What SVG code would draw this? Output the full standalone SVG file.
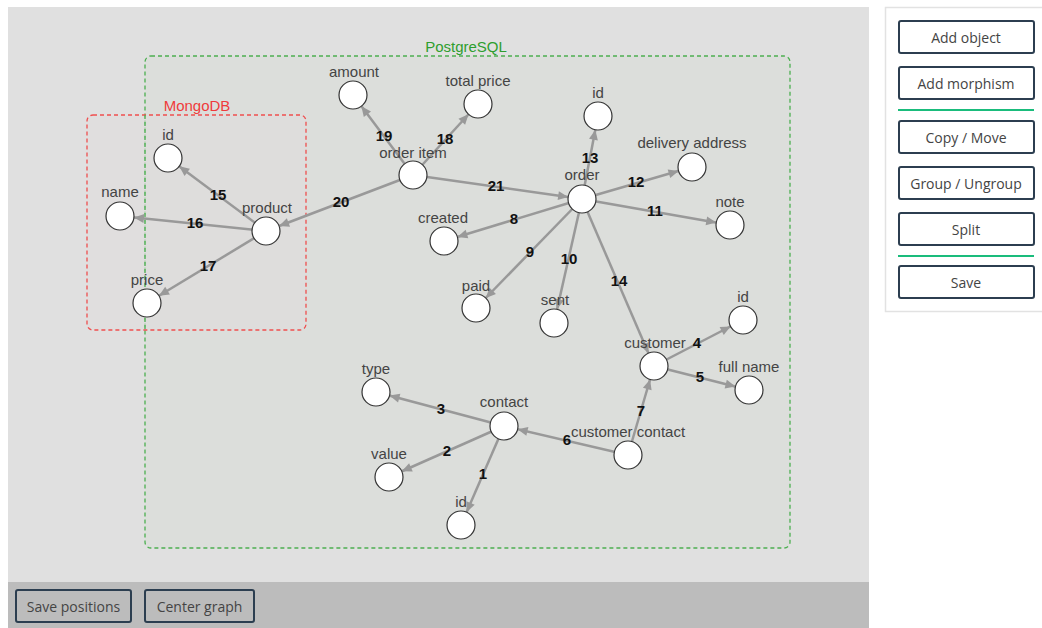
<svg xmlns="http://www.w3.org/2000/svg" width="1042" height="628" viewBox="0 0 1042 628">
  <style>
    .node circle { fill: #ffffff; stroke: #333333; stroke-width: 1.2; }
    .node text { font-family: "Liberation Sans", Arial, sans-serif; font-size: 15px; fill: #444444; text-anchor: middle; }
    .edge line { stroke: #999999; stroke-width: 2.5; marker-end: url(#arrow); }
    .edge text { font-family: "Liberation Sans", Arial, sans-serif; font-size: 15px; font-weight: bold; fill: #111111; text-anchor: middle; dominant-baseline: central; }
    .group rect { stroke-width: 1.3; stroke-dasharray: 4 3; }
    .group text { font-family: "Liberation Sans", Arial, sans-serif; font-size: 15px; text-anchor: middle; }
    .btn rect { fill: #ffffff; stroke: #2c3e50; stroke-width: 2; }
    .btn text { font-family: "Open Sans", "Noto Sans", sans-serif; font-size: 14px; fill: #444444; text-anchor: middle; dominant-baseline: central; }
    .sep { stroke: #1abc7c; stroke-width: 2; }
  </style>
  <defs>
    <marker id="arrow" markerUnits="userSpaceOnUse" markerWidth="40" markerHeight="20" viewBox="-30 -10 40 20" refX="0" refY="0" orient="auto" overflow="visible">
      <path d="M -14 0 L -24 -4.5 L -24 4.5 Z" fill="#999999"/>
    </marker>
  </defs>

  <!-- canvas -->
  <rect x="0" y="0" width="1042" height="628" fill="#ffffff"/>
  <rect x="8" y="7" width="861" height="575" fill="#e0e0e0"/>
  <rect x="8" y="582" width="861" height="46" fill="#bcbcbc"/>

  <!-- database groups -->
  <g id="group-postgresql" class="group">
    <rect x="145" y="56" width="645" height="492" rx="6" fill="#dcdedb" stroke="#4caf50"/>
    <text x="466" y="52" fill="#2e9e2e">PostgreSQL</text>
  </g>
  <g id="group-mongodb" class="group">
    <rect x="87" y="115" width="219" height="215" rx="6" fill="#dfdcdc" fill-opacity="0.6" stroke="#ef4f4f"/>
    <text x="197" y="111" fill="#ef3b3b">MongoDB</text>
  </g>
  <line x1="145" y1="115" x2="145" y2="330" stroke="#4caf50" stroke-width="1.3" stroke-dasharray="4 3"/>

  <!-- morphisms -->
  <g id="edges" class="edge">
    <line x1="266" y1="231" x2="168" y2="158"/>
    <line x1="266" y1="231" x2="120" y2="216"/>
    <line x1="266" y1="231" x2="147" y2="303"/>
    <line x1="413" y1="175" x2="266" y2="231"/>
    <line x1="413" y1="175" x2="353" y2="95"/>
    <line x1="413" y1="175" x2="478" y2="104"/>
    <line x1="413" y1="175" x2="582" y2="199"/>
    <line x1="582" y1="199" x2="598" y2="116"/>
    <line x1="582" y1="199" x2="692" y2="167"/>
    <line x1="582" y1="199" x2="730" y2="225"/>
    <line x1="582" y1="199" x2="444" y2="241"/>
    <line x1="582" y1="199" x2="476" y2="308"/>
    <line x1="582" y1="199" x2="554" y2="323"/>
    <line x1="582" y1="199" x2="654" y2="366"/>
    <line x1="654" y1="366" x2="743" y2="320"/>
    <line x1="654" y1="366" x2="749" y2="390"/>
    <line x1="628" y1="455" x2="654" y2="366"/>
    <line x1="628" y1="455" x2="504" y2="426"/>
    <line x1="504" y1="426" x2="376" y2="392"/>
    <line x1="504" y1="426" x2="389" y2="477"/>
    <line x1="504" y1="426" x2="461" y2="525"/>
  </g>

  <!-- objects -->
  <g id="node-product-id" class="node"><circle cx="168" cy="158" r="14"/><text x="168" y="140">id</text></g>
  <g id="node-product-name" class="node"><circle cx="120" cy="216" r="14"/><text x="120" y="197">name</text></g>
  <g id="node-product" class="node"><circle cx="266" cy="231" r="14"/><text x="267" y="213">product</text></g>
  <g id="node-product-price" class="node"><circle cx="147" cy="303" r="14"/><text x="147" y="285">price</text></g>
  <g id="node-amount" class="node"><circle cx="353" cy="95" r="14"/><text x="354" y="77">amount</text></g>
  <g id="node-total-price" class="node"><circle cx="478" cy="104" r="14"/><text x="478" y="86">total price</text></g>
  <g id="node-order-item" class="node"><circle cx="413" cy="175" r="14"/><text x="413" y="158">order item</text></g>
  <g id="node-order" class="node"><circle cx="582" cy="199" r="14"/><text x="582" y="180">order</text></g>
  <g id="node-order-id" class="node"><circle cx="598" cy="116" r="14"/><text x="598" y="98">id</text></g>
  <g id="node-delivery-address" class="node"><circle cx="692" cy="167" r="14"/><text x="692" y="148">delivery address</text></g>
  <g id="node-note" class="node"><circle cx="730" cy="225" r="14"/><text x="730" y="207">note</text></g>
  <g id="node-created" class="node"><circle cx="444" cy="241" r="14"/><text x="443" y="223">created</text></g>
  <g id="node-paid" class="node"><circle cx="476" cy="308" r="14"/><text x="476" y="291">paid</text></g>
  <g id="node-sent" class="node"><circle cx="554" cy="323" r="14"/><text x="555" y="305">sent</text></g>
  <g id="node-customer" class="node"><circle cx="654" cy="366" r="14"/><text x="655" y="348">customer</text></g>
  <g id="node-customer-id" class="node"><circle cx="743" cy="320" r="14"/><text x="743" y="302">id</text></g>
  <g id="node-full-name" class="node"><circle cx="749" cy="390" r="14"/><text x="749" y="372">full name</text></g>
  <g id="node-customer-contact" class="node"><circle cx="628" cy="455" r="14"/><text x="628" y="437">customer contact</text></g>
  <g id="node-contact" class="node"><circle cx="504" cy="426" r="14"/><text x="504" y="407">contact</text></g>
  <g id="node-type" class="node"><circle cx="376" cy="392" r="14"/><text x="376" y="374">type</text></g>
  <g id="node-value" class="node"><circle cx="389" cy="477" r="14"/><text x="389" y="459">value</text></g>
  <g id="node-contact-id" class="node"><circle cx="461" cy="525" r="14"/><text x="461" y="507">id</text></g>

  <!-- morphism numbers -->
  <g id="edge-labels" class="edge">
    <text x="218" y="194">15</text>
    <text x="195" y="222">16</text>
    <text x="208" y="265">17</text>
    <text x="341" y="201">20</text>
    <text x="384" y="135">19</text>
    <text x="445" y="138">18</text>
    <text x="496" y="185">21</text>
    <text x="590" y="157">13</text>
    <text x="636" y="181">12</text>
    <text x="655" y="210">11</text>
    <text x="514" y="218">8</text>
    <text x="530" y="251">9</text>
    <text x="569" y="258">10</text>
    <text x="619" y="280">14</text>
    <text x="697" y="342">4</text>
    <text x="700" y="376">5</text>
    <text x="641" y="410">7</text>
    <text x="567" y="439">6</text>
    <text x="441" y="408">3</text>
    <text x="447" y="450">2</text>
    <text x="483" y="473">1</text>
  </g>

  <!-- side panel -->
  <g id="panel">
    <rect x="885.5" y="7.5" width="160" height="304" fill="#ffffff" stroke="#e2e2e2" stroke-width="1.5"/>
    <g id="btn-add-object" class="btn"><rect x="899" y="21" width="135" height="32" rx="2"/><text x="966" y="37.5">Add object</text></g>
    <g id="btn-add-morphism" class="btn"><rect x="899" y="67" width="135" height="32" rx="2"/><text x="966" y="83.5">Add morphism</text></g>
    <line class="sep" x1="898" y1="110" x2="1034" y2="110"/>
    <g id="btn-copy-move" class="btn"><rect x="899" y="121" width="135" height="32" rx="2"/><text x="966" y="137.5">Copy / Move</text></g>
    <g id="btn-group" class="btn"><rect x="899" y="167" width="135" height="32" rx="2"/><text x="966" y="183.5">Group / Ungroup</text></g>
    <g id="btn-split" class="btn"><rect x="899" y="213" width="135" height="32" rx="2"/><text x="966" y="229.5">Split</text></g>
    <line class="sep" x1="898" y1="256" x2="1034" y2="256"/>
    <g id="btn-save" class="btn"><rect x="899" y="266" width="135" height="32" rx="2"/><text x="966" y="282.5">Save</text></g>
  </g>

  <!-- bottom toolbar -->
  <g id="toolbar">
    <g id="btn-save-positions" class="btn"><rect x="16" y="590" width="115" height="32" rx="2" style="fill:#bcbcbc"/><text x="73.5" y="606.5">Save positions</text></g>
    <g id="btn-center-graph" class="btn"><rect x="145" y="590" width="109" height="32" rx="2" style="fill:#bcbcbc"/><text x="199.5" y="606.5">Center graph</text></g>
  </g>
</svg>
